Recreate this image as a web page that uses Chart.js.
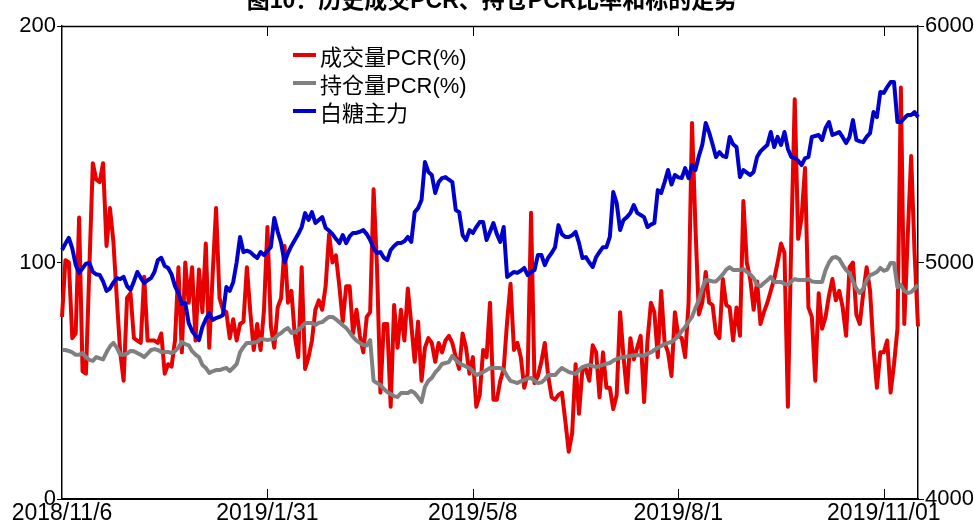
<!DOCTYPE html>
<html><head><meta charset="utf-8">
<script src="https://cdn.jsdelivr.net/npm/chart.js@4.4.0/dist/chart.umd.min.js"></script>
<style>
html,body{margin:0;padding:0;background:#fff;}
#wrap{position:relative;width:974px;height:525px;overflow:hidden;background:#fff;}
#legend{position:absolute;left:293px;top:41px;font:22px "Liberation Sans","Noto Sans CJK SC",sans-serif;color:#000;}
.row{height:28px;display:flex;align-items:center;white-space:nowrap;}
.sw{width:23px;height:4px;margin-right:4px;}
</style></head><body>
<div id="wrap"><canvas id="c" width="974" height="525"></canvas><div id="legend"></div></div>
<script>
// ---- data ----
const title = '图10：历史成交PCR、持仓PCR比率和标的走势';
const seriesNames = ['成交量PCR(%)', '持仓量PCR(%)', '白糖主力'];
const tickIndex = [0, 60, 120, 180, 240];
const tickText = ['2018/11/6', '2019/1/31', '2019/5/8', '2019/8/1', '2019/11/01'];
const leftTicks = [0, 100, 200];
const rightTicks = [4000, 5000, 6000];
const startDate = '2018-11-06';
const holidays = ['2018-12-31','2019-01-01','2019-02-04','2019-02-05','2019-02-06','2019-02-07','2019-02-08',
  '2019-04-05','2019-05-01','2019-05-02','2019-05-03','2019-06-07','2019-09-13',
  '2019-10-01','2019-10-02','2019-10-03','2019-10-04','2019-10-07'];

const volumePCR = [
 77,101,100,68,70,119,54,53,98,142,
 135,134,142,107,123,109,85,62,50,85,
 87,68,67,66,94,67,67,67,66,70,
 53,57,56,67,98,62,100,83,98,67,
 97,79,108,64,95,123,85,80,79,68,
 76,67,74,75,98,79,63,74,63,80,
 115,73,64,81,85,107,83,88,69,60,
 98,55,60,67,80,84,80,90,112,100,
 103,90,75,90,90,70,80,69,62,77,
 79,131,98,45,74,74,39,82,64,80,
 67,89,74,58,75,50,64,68,66,58,
 66,62,67,69,66,60,55,70,64,53,
 60,39,44,63,60,83,42,42,50,55,
 75,91,63,66,60,47,53,121,49,52,
 58,66,52,43,42,44,45,33,20,28,
 57,36,55,55,50,65,62,43,62,47,
 47,38,44,79,60,45,68,59,64,69,
 41,67,83,79,60,88,66,62,52,79,
 69,68,60,83,159,115,78,83,96,83,
 82,70,68,93,82,81,67,81,69,126,
 100,93,80,92,74,79,83,88,93,100,
 108,104,39,110,169,110,119,140,81,77,
 50,87,72,77,86,93,84,88,81,69,
 98,100,78,74,87,98,88,64,47,62,
 62,67,45,57,72,174,74,111,145,104,
 73];

const openPCR = [
 63,63,62.6,62,61,61,61.7,60,58.8,58.4,
 60,59.5,59,62,64.5,66,64,61,61,61.5,
 62.6,62.5,61.7,61,60,61.5,63,63.4,63,62.2,
 62.2,62.2,61.7,62.5,64,66.4,65.5,65,62.5,61,
 60,56.7,55.4,53.3,54,54.5,54.5,55,55.4,54.1,
 55.5,57,62,64.3,66,66,66.2,66.4,67.7,67.5,
 67.2,67.5,67.7,69.3,70.2,71.5,72.3,70.2,70.6,71.5,
 72.7,74.4,74.4,74.4,73.6,74.5,74.8,76,77,77,
 76,74.8,73.5,72.3,70.5,68.5,67,66,65.1,64.9,
 67.2,50,49,48.2,46.5,45.2,44.4,43.5,43.1,44.8,
 44.8,44.8,45.7,44.8,43,41,47.4,50,51.2,53.5,
 55,57.1,57.5,57.9,60.5,58.8,57.5,56.7,56,55.4,
 54,52.4,53,53.7,54.5,55.4,55.4,55.4,55.4,54.5,
 52,49.9,49.5,49,49.8,50.3,51,51.2,50,49,
 49.3,50.5,52.4,52.4,52.4,54,55.4,54.5,53.7,53.3,
 52.9,54.5,55.8,56.3,56.7,56.2,55.8,56.3,56.7,57.2,
 57.5,58.5,59.2,59.7,60,60.3,60.5,60.8,60.9,60.7,
 60.5,61.5,62,63,64,64.7,65.5,66,66.4,67.5,
 69,71,72.7,75,77,80.8,84,89,92.6,92.4,
 92,92,93.4,95,97,98,96.8,96.8,96.8,97.3,
 96,95,93.4,90.5,90,91.3,92.5,93.9,91.8,91.8,
 91.8,91,90.5,92,93,92.6,92.6,92.6,93,92,
 91.8,91.8,91.8,96.8,100,102,102.3,101.5,99,96.8,
 95.5,92,89,87.1,89,92.5,94.7,95.2,96,97.7,
 96.5,97,99.8,99.8,89.6,90.5,88,87.1,87.5,89,
 90.5];

const sugarMain = [
 5053,5080,5104,5060,4990,4956,4975,4995,4998,4960,
 4950,4947,4920,4880,4890,4915,4934,4930,4939,4900,
 4884,4920,4960,4935,4913,4925,4934,4960,5010,5020,
 4985,4977,4950,4900,4871,4825,4829,4744,4710,4690,
 4672,4727,4760,4786,4757,4765,4770,4778,4896,4880,
 4917,5000,5108,5044,5050,5044,5030,5019,5044,5032,
 5050,5065,5188,5130,5082,5000,5040,5070,5095,5120,
 5150,5209,5180,5213,5167,5180,5192,5146,5135,5120,
 5100,5082,5116,5082,5110,5125,5125,5130,5137,5120,
 5095,5060,5040,5044,5020,5010,5053,5070,5082,5082,
 5090,5108,5087,5213,5230,5264,5425,5383,5370,5294,
 5340,5357,5361,5350,5340,5222,5213,5116,5095,5137,
 5125,5150,5171,5171,5095,5130,5167,5120,5087,5150,
 4939,4950,4960,4956,4965,4977,4947,4960,4968,5032,
 5032,4989,5020,5040,5065,5158,5120,5108,5108,5115,
 5129,5082,5019,5023,5000,4981,5023,5045,5065,5065,
 5108,5298,5251,5137,5180,5192,5209,5243,5210,5201,
 5192,5150,5160,5167,5306,5294,5340,5391,5330,5370,
 5360,5357,5399,5357,5412,5391,5450,5497,5590,5550,
 5500,5446,5467,5450,5446,5531,5500,5488,5361,5391,
 5380,5370,5383,5446,5470,5484,5497,5552,5488,5531,
 5497,5552,5480,5446,5442,5430,5412,5440,5446,5531,
 5535,5539,5518,5569,5594,5539,5545,5552,5530,5505,
 5531,5602,5518,5512,5509,5531,5547,5636,5615,5721,
 5717,5742,5763,5763,5594,5594,5610,5624,5624,5636,
 5615];

// trading-day categories
function buildDates(n) {
  const out = [];
  const d = new Date(startDate + 'T00:00:00Z');
  while (out.length < n) {
    const wd = d.getUTCDay();
    const iso = d.toISOString().slice(0, 10);
    if (wd !== 0 && wd !== 6 && holidays.indexOf(iso) < 0) {
      out.push(d.getUTCFullYear() + '/' + (d.getUTCMonth() + 1) + '/' + d.getUTCDate());
    }
    d.setUTCDate(d.getUTCDate() + 1);
  }
  return out;
}
const categories = buildDates(volumePCR.length);

// ---- styling ----
const colors = ['#E60000', '#808080', '#0000CC'];
const FONT = '"Liberation Sans", "Noto Sans CJK SC", Arial, sans-serif';
Chart.defaults.font.family = FONT;
Chart.defaults.font.size = 22;
Chart.defaults.color = '#000';

const frame = {
  id: 'frame',
  afterDatasetsDraw(chart) {
    const ctx = chart.ctx, a = chart.chartArea, x = chart.scales.x;
    ctx.save();
    ctx.strokeStyle = '#000';
    ctx.lineWidth = 1.5;
    ctx.beginPath();
    ctx.moveTo(a.left, a.top + 0.5); ctx.lineTo(a.right, a.top + 0.5);
    ctx.stroke();
    ctx.lineWidth = 1;
    tickIndex.forEach(i => {
      const px = Math.round(x.getPixelForValue(i)) + 0.5;
      if (px <= a.left + 1) return;
      ctx.beginPath();
      ctx.moveTo(px, a.bottom); ctx.lineTo(px, a.bottom - 10);
      ctx.moveTo(px, a.top); ctx.lineTo(px, a.top + 10);
      ctx.stroke();
    });
    ctx.restore();
  },
  afterDraw(chart) {
    const ctx = chart.ctx;
    ctx.save();
    ctx.fillStyle = '#000';
    ctx.font = 'bold 23px ' + FONT;
    ctx.textAlign = 'center';
    ctx.textBaseline = 'alphabetic';
    ctx.fillText(title, 492, 8);
    ctx.restore();
  }
};

const series = [volumePCR, openPCR, sugarMain];
const axisOf = ['y', 'y', 'y1'];
const orderOf = [2, 1, 0];

const chart = new Chart(document.getElementById('c'), {
  type: 'line',
  data: {
    labels: categories,
    datasets: series.map((s, k) => ({
      label: seriesNames[k],
      data: s,
      yAxisID: axisOf[k],
      borderColor: colors[k],
      backgroundColor: colors[k],
      borderWidth: 4,
      pointRadius: 0,
      tension: 0,
      order: orderOf[k],
      borderJoinStyle: 'round'
    }))
  },
  options: {
    responsive: false,
    devicePixelRatio: 1,
    animation: false,
    layout: { padding: { top: 26, left: 0, right: 0, bottom: 0 } },
    plugins: { legend: { display: false }, tooltip: { enabled: false }, title: { display: false } },
    scales: {
      x: {
        type: 'category',
        offset: false,
        grid: { display: false, drawTicks: false },
        border: { display: true, color: '#000', width: 2 },
        ticks: {
          autoSkip: false, maxRotation: 0, minRotation: 0, padding: 1,
          font: { size: 23 },
          callback: (v, i) => { const k = tickIndex.indexOf(i); return k >= 0 ? tickText[k] : ''; }
        },
        afterFit: s => { s.height = 26; }
      },
      y: {
        position: 'left', min: 0, max: 200,
        afterBuildTicks: s => { s.ticks = leftTicks.map(v => ({ value: v })); },
        grid: { drawOnChartArea: false, drawTicks: true, tickLength: 5, color: '#000' },
        border: { display: true, color: '#000', width: 1.5 },
        ticks: { padding: 1, font: { size: 22 }, callback: v => String(v) },
        afterFit: s => { s.width = 62; }
      },
      y1: {
        position: 'right', min: 4000, max: 6000,
        afterBuildTicks: s => { s.ticks = rightTicks.map(v => ({ value: v })); },
        grid: { drawOnChartArea: false, drawTicks: true, tickLength: 6, color: '#000' },
        border: { display: true, color: '#000', width: 1.5 },
        ticks: { padding: 1, font: { size: 22 }, callback: v => String(v) },
        afterFit: s => { s.width = 56; }
      }
    }
  },
  plugins: [frame]
});

// HTML legend from the chart's datasets
const lg = document.getElementById('legend');
chart.data.datasets.forEach(ds => {
  const row = document.createElement('div'); row.className = 'row';
  const sw = document.createElement('span'); sw.className = 'sw'; sw.style.background = ds.borderColor;
  const tx = document.createElement('span'); tx.textContent = ds.label;
  row.appendChild(sw); row.appendChild(tx); lg.appendChild(row);
});
</script>
</body></html>
